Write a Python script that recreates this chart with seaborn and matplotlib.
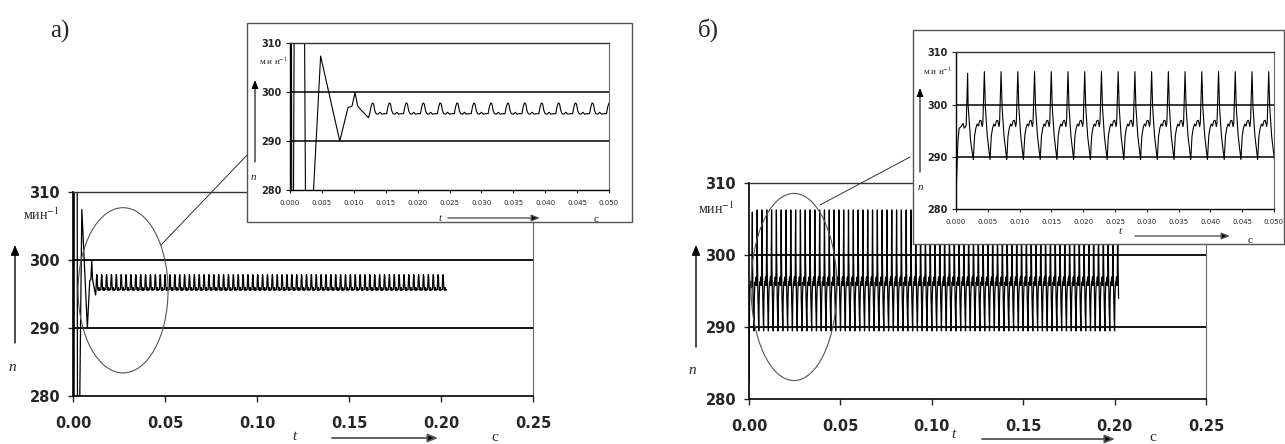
import numpy as np
import matplotlib
matplotlib.use('Agg')
import matplotlib.pyplot as plt
import seaborn as sns
from matplotlib.patches import Ellipse, Rectangle, FancyArrowPatch
from matplotlib.lines import Line2D

# ---- data ----
# a) start-up transient, then one steady period that repeats
a_start_t = [0.0, 0.0002, 0.0003, 0.0005, 0.0007, 0.0022, 0.0025, 0.0030, 0.0048,
             0.0078, 0.0091, 0.0097, 0.0102, 0.0106, 0.0111, 0.0123]
a_start_n = [330, 330, 262, 262, 330, 330, 262, 263, 307.4,
             290.0, 296.9, 297.1, 299.9, 297.2, 296.4, 294.8]
a_cycle_dt = [0.0, 0.0002, 0.0004, 0.0006, 0.0008, 0.0010, 0.0013, 0.0016, 0.0019, 0.0022]
a_cycle_n = [295.6, 297.0, 297.8, 297.6, 296.2, 295.6, 295.5, 295.9, 295.5, 295.6]
a_cycle_start = 0.0125
a_period = 0.00265
a_end = 0.203

# b) start-up, then one steady period that repeats
b_start_t = [0.0, 0.0003, 0.0005, 0.0008, 0.0011, 0.0013, 0.0016, 0.00183, 0.0019, 0.0023]
b_start_n = [282.4, 293.0, 295.5, 295.8, 296.4, 295.5, 296.0, 306.0, 300.0, 293.0]
b_cycle_dt = [0.0, 0.0002, 0.0004, 0.0006, 0.0008, 0.0010, 0.0012, 0.0014, 0.0015, 0.00174, 0.0019, 0.0022]
b_cycle_n = [289.5, 294.0, 295.5, 296.3, 295.9, 296.9, 297.0, 295.8, 296.5, 306.3, 299.5, 294.0]
b_cycle_start = 0.00272
b_period = 0.00263
b_end = 0.2025

main_xticks = [0.00, 0.05, 0.10, 0.15, 0.20, 0.25]
inset_xticks = [0.000, 0.005, 0.010, 0.015, 0.020, 0.025, 0.030, 0.035, 0.040, 0.045, 0.050]
yticks = [280, 290, 300, 310]


def build(start_t, start_n, cyc_dt, cyc_n, t0, period, t_end):
    t = list(start_t)
    n = list(start_n)
    k = 0
    while t0 + k * period <= t_end:
        for dt, v in zip(cyc_dt, cyc_n):
            tt = t0 + k * period + dt
            if tt <= t_end:
                t.append(tt)
                n.append(v)
        k += 1
    return np.array(t), np.array(n)


ta, na = build(a_start_t, a_start_n, a_cycle_dt, a_cycle_n, a_cycle_start, a_period, a_end)
tb, nb = build(b_start_t, b_start_n, b_cycle_dt, b_cycle_n, b_cycle_start, b_period, b_end)

sns.set_style('white')
plt.rcParams['font.family'] = ['DejaVu Sans']
plt.rcParams['mathtext.fontset'] = 'stix'

W, H = 1285, 444
fig = plt.figure(figsize=(W / 100, H / 100), dpi=100)


def fx(x):
    return x / W


def fy(y):
    return 1 - y / H


def box(x0, y0, x1, y1):
    return [fx(x0), fy(y1), fx(x1) - fx(x0), fy(y0) - fy(y1)]


def style_axes(ax, xticks, fmt, big):
    ax.set_ylim(280, 310)
    ax.set_xlim(xticks[0], xticks[-1])
    ax.set_yticks(yticks)
    ax.set_xticks(xticks)
    ax.set_xticklabels([fmt % v for v in xticks])
    for v in (290, 300):
        ax.axhline(v, color='black', lw=1.3 if big else 1.1, zorder=1)
    for s in ('left', 'bottom'):
        ax.spines[s].set_color('black')
        ax.spines[s].set_linewidth(1.2 if big else 1.0)
    ax.spines['top'].set_color('#333333')
    ax.spines['top'].set_linewidth(1.0)
    ax.spines['right'].set_color('#666666')
    ax.spines['right'].set_linewidth(0.8)
    ax.set_xlabel('')
    ax.set_ylabel('')
    ax.set_facecolor('white')
    if big:
        ax.tick_params(axis='y', direction='out', length=3.8, width=1, pad=5.5,
                       labelsize=10.5, left=True)
        ax.tick_params(axis='x', direction='out', length=4.5, width=1, pad=10,
                       labelsize=10.5, bottom=True)
        for lab in ax.get_yticklabels() + ax.get_xticklabels():
            lab.set_fontweight('bold')
    else:
        ax.tick_params(axis='y', direction='out', length=3, width=0.8, pad=3,
                       labelsize=7, left=True)
        ax.tick_params(axis='x', direction='out', length=2.5, width=0.8, pad=4.5,
                       labelsize=5, bottom=True)
        for lab in ax.get_yticklabels():
            lab.set_fontweight('bold')


def arrow(x0, y0, x1, y1, color='black', lw=1.0, big=True):
    hw, hl = (0.25, 0.6) if big else (0.2, 0.5)
    a = FancyArrowPatch((fx(x0), fy(y0)), (fx(x1), fy(y1)), transform=fig.transFigure,
                        arrowstyle='-|>,head_width=%s,head_length=%s' % (hw, hl),
                        mutation_scale=10, color=color, lw=lw, zorder=5,
                        shrinkA=0, shrinkB=0)
    a.set_facecolor('black')
    a.set_edgecolor(color)
    fig.add_artist(a)


def label_set(n_xy, min_xy, up, t_xy, right, c_xy, size_big):
    fs_it = 11 if size_big else 8
    fig.text(fx(n_xy[0]), fy(n_xy[1]), 'n', family='Liberation Serif', style='italic',
             fontsize=fs_it, ha='center', va='center', zorder=6)
    fig.text(fx(min_xy[0]), fy(min_xy[1]), 'мин$^{-1}$' if size_big else 'м и н$^{-1}$',
             family='Liberation Serif', fontsize=10 if size_big else 6.5,
             ha='center', va='center', zorder=6)
    arrow(up[0], up[1], up[0], up[2], color='black', lw=1.0 if size_big else 0.8, big=size_big)
    fig.text(fx(t_xy[0]), fy(t_xy[1]), 't', family='Liberation Serif', style='italic',
             fontsize=fs_it, ha='center', va='center', zorder=6)
    arrow(right[0], right[2], right[1], right[2], color='#555555', lw=1.3 if size_big else 1.0,
          big=size_big)
    fig.text(fx(c_xy[0]), fy(c_xy[1]), 'с', family='Liberation Serif',
             fontsize=11 if size_big else 8, ha='center', va='center', zorder=6)


# ---------- a) main ----------
ax_a = fig.add_axes(box(73, 191.7, 533, 395.7), zorder=0)
sns.lineplot(x=ta, y=na, ax=ax_a, color='black', lw=0.9, estimator=None, sort=False)
style_axes(ax_a, main_xticks, '%.2f', True)
ax_a.add_patch(Ellipse((0.0272, 295.5), 0.0489, 24.3, fill=False, ec='#555555', lw=0.8,
                       clip_on=False, zorder=3))
label_set((12, 367), (41, 215), (15, 343, 245), (294, 436), (332, 438, 438), (495, 437), True)
fig.add_artist(Line2D([fx(161), fx(250)], [fy(245), fy(152)], transform=fig.transFigure,
                      color='#333333', lw=0.7, zorder=1))

# ---------- a) inset ----------
fig.add_artist(Rectangle((fx(247.3), fy(221.7)), fx(632) - fx(247.3), fy(22.7) - fy(221.7),
                         transform=fig.transFigure, fc='white', ec='#555555', lw=1.0, zorder=2))
ax_ai = fig.add_axes(box(290, 43.3, 609, 190), zorder=3)
sns.lineplot(x=ta, y=na, ax=ax_ai, color='black', lw=0.8, estimator=None, sort=False)
style_axes(ax_ai, inset_xticks, '%.3f', False)
label_set((253, 177), (273, 62), (255, 162, 80), (440, 218), (448, 540, 218), (596, 219), False)

# ---------- b) main ----------
ax_b = fig.add_axes(box(749, 183.3, 1206, 399.3), zorder=0)
sns.lineplot(x=tb, y=nb, ax=ax_b, color='black', lw=0.9, estimator=None, sort=False)
style_axes(ax_b, main_xticks, '%.2f', True)
ax_b.add_patch(Ellipse((0.0246, 295.6), 0.047, 26.0, fill=False, ec='#555555', lw=0.8,
                       clip_on=False, zorder=3))
label_set((692, 370), (716, 209), (696, 347, 245), (953, 434), (982, 1115, 439), (1153, 437), True)
fig.add_artist(Line2D([fx(820), fx(910)], [fy(205), fy(157)], transform=fig.transFigure,
                      color='#333333', lw=0.7, zorder=1))

# ---------- b) inset ----------
fig.add_artist(Rectangle((fx(913.3), fy(244)), fx(1284) - fx(913.3), fy(30) - fy(244),
                         transform=fig.transFigure, fc='white', ec='#555555', lw=1.0, zorder=2))
ax_bi = fig.add_axes(box(956, 52.3, 1274, 209.3), zorder=3)
sns.lineplot(x=tb, y=nb, ax=ax_bi, color='black', lw=0.8, estimator=None, sort=False)
style_axes(ax_bi, inset_xticks, '%.3f', False)
label_set((920, 188), (937, 72), (920, 172, 88), (1120, 231), (1135, 1230, 236), (1250, 240), False)

# panel letters
fig.text(fx(60), fy(31), 'а)', family='Liberation Serif', fontsize=18, ha='center', va='center')
fig.text(fx(708), fy(30), 'б)', family='Liberation Serif', fontsize=18, ha='center', va='center')

fig.savefig('out.png', dpi=100)
